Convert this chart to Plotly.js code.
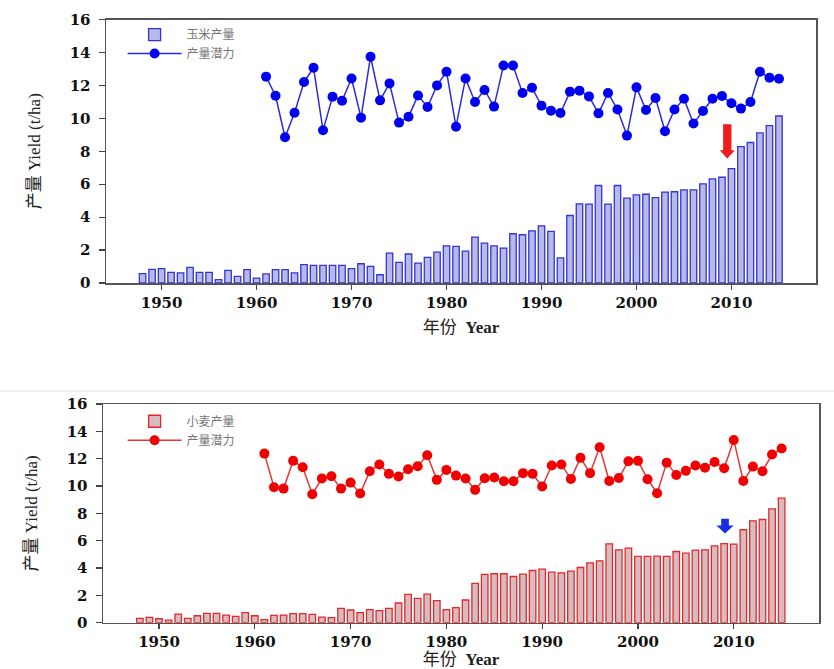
<!DOCTYPE html>
<html>
<head>
<meta charset="utf-8">
<script src="https://cdn.plot.ly/plotly-3.0.1.min.js"></script>
<style>html,body{margin:0;padding:0;background:#fff;}#chart{width:834px;height:669px;}</style>
</head>
<body>
<div id="chart"></div>
<script>
// ---------- data ----------
const barYears = [];
for (let y = 1948; y <= 2015; y++) barYears.push(y);
const potYears = [];
for (let y = 1961; y <= 2015; y++) potYears.push(y);

const maizeYield = [0.57,0.83,0.87,0.65,0.61,0.95,0.65,0.65,0.20,0.77,0.40,0.81,0.30,0.55,0.81,0.81,0.61,1.11,1.07,1.07,1.07,1.07,0.87,1.17,1.01,0.50,1.82,1.25,1.76,1.21,1.56,1.88,
  2.26,2.22,1.94,2.79,2.42,2.26,2.12,2.99,2.93,3.17,3.47,3.13,1.52,4.10,4.81,4.79,5.92,4.79,5.92,5.15,5.35,5.39,5.19,5.52,5.54,5.66,5.66,6.02,6.32,6.42,6.95,8.28,8.53,9.11,9.56,10.14];
const maizePotential = [12.53,11.37,8.85,10.34,12.2,13.07,9.27,11.31,11.07,12.42,10.04,13.74,11.09,12.12,9.74,10.1,11.39,10.69,12.0,12.83,
  9.49,12.42,10.99,11.72,10.71,13.21,13.21,11.54,11.86,10.77,10.46,10.32,11.62,11.68,11.33,10.3,11.54,10.53,8.95,11.88,10.5,11.23,9.21,10.53,11.19,9.68,10.44,11.19,11.35,10.91,10.59,10.99,12.83,12.46,12.4];
const wheatYield = [0.32,0.39,0.29,0.19,0.63,0.32,0.51,0.68,0.68,0.56,0.46,0.73,0.51,0.22,0.54,0.56,0.66,0.66,0.61,0.41,0.37,1.05,0.93,0.73,0.95,0.88,1.05,1.44,2.07,1.78,2.09,1.61,
  0.95,1.1,1.66,2.87,3.53,3.58,3.58,3.38,3.55,3.82,3.92,3.7,3.65,3.78,4.04,4.38,4.53,5.77,5.33,5.46,4.85,4.85,4.87,4.85,5.21,5.09,5.31,5.33,5.62,5.79,5.75,6.8,7.45,7.55,8.33,9.11];
const wheatPotential = [12.37,9.91,9.81,11.84,11.37,9.4,10.55,10.72,9.81,10.25,9.45,11.08,11.57,10.89,10.69,11.23,11.45,12.25,10.45,11.18,
  10.76,10.55,9.72,10.57,10.62,10.35,10.35,10.94,10.89,9.96,11.5,11.57,10.52,12.06,10.94,12.83,10.37,10.59,11.81,11.84,10.5,9.47,11.71,10.81,11.11,11.5,11.33,11.76,11.3,13.37,10.37,11.42,11.08,12.3,12.74];

const xTickVals = [1950,1960,1970,1980,1990,2000,2010];
const yTickVals = [0,2,4,6,8,10,12,14,16];
const maizeLegend = ['玉米产量','产量潜力'];
const wheatLegend = ['小麦产量','产量潜力'];
const yTitle = '产量 Yield (t/ha)';
const xTitle = '年份  <b>Year</b>';

// ---------- traces ----------
const traces = [
  {type:'bar', x:barYears, y:maizeYield, name:maizeLegend[0], xaxis:'x', yaxis:'y', width:0.68,
   marker:{color:'#b7bae6', line:{color:'#3434d6', width:1.3}}, legend:'legend'},
  {type:'scatter', mode:'lines+markers', x:potYears, y:maizePotential, name:maizeLegend[1], xaxis:'x', yaxis:'y',
   line:{color:'#2b2bdc', width:1.5}, marker:{color:'#0000f0', size:10}, legend:'legend'},
  {type:'bar', x:barYears, y:wheatYield, name:wheatLegend[0], xaxis:'x2', yaxis:'y2', width:0.68,
   marker:{color:'#d6bcc0', line:{color:'#e42828', width:1.3}}, legend:'legend2'},
  {type:'scatter', mode:'lines+markers', x:potYears, y:wheatPotential, name:wheatLegend[1], xaxis:'x2', yaxis:'y2',
   line:{color:'#e23838', width:1.5}, marker:{color:'#f00000', size:10}, legend:'legend2'}
];

// ---------- layout ----------
const W = 834, H = 669;
const tickFont = {family:'DejaVu Serif, Liberation Serif, serif', size:15, color:'#111', weight:'bold'};
const xTickFont = {family:'DejaVu Serif, Liberation Serif, serif', size:15, color:'#111', weight:'bold'};
const titleFontY = {family:'Liberation Serif, Noto Sans CJK SC, serif', size:17, color:'#222'};
const titleFontX = {family:'Liberation Serif, Noto Sans CJK SC, serif', size:17, color:'#222'};
function xax(domain){
  return {domain:domain, range:[1944.15,2018.9], tickvals:xTickVals, ticks:'outside', ticklen:5, tickwidth:1.2, tickcolor:'#444',
    showline:true, linecolor:'#555', linewidth:1.5, mirror:true, showgrid:false, zeroline:false, tickfont:xTickFont,
    title:{text:xTitle, font:titleFontX, standoff:10}};
}
function yax(domain, anchor){
  return {domain:domain, range:[0,16], tickvals:yTickVals, ticks:'outside', ticklen:6, tickwidth:1.2, tickcolor:'#444', anchor:anchor,
    showline:true, linecolor:'#555', linewidth:1.5, mirror:true, showgrid:false, zeroline:false, tickfont:tickFont,
    ticklabelstandoff:5, title:{text:yTitle, font:titleFontY, standoff:24}};
}
const legendFont = {family:'Noto Sans CJK SC, serif', size:12, color:'#777'};

const layout = {
  width:W, height:H, margin:{l:0,r:0,t:0,b:0}, paper_bgcolor:'#fff', plot_bgcolor:'#fff', showlegend:true,
  barmode:'overlay',
  xaxis: Object.assign(xax([106/W, 816/W]), {anchor:'y'}),
  yaxis: yax([1-283/H, 1-19.5/H], 'x'),
  xaxis2: Object.assign(xax([103/W, 819/W]), {anchor:'y2'}),
  yaxis2: yax([1-622.7/H, 1-404/H], 'x2'),
  legend:{x:0.147, y:0.97, xanchor:'left', yanchor:'top', bgcolor:'rgba(0,0,0,0)', font:legendFont, itemwidth:54, tracegroupgap:0, traceorder:'normal'},
  legend2:{x:0.147, y:0.392, xanchor:'left', yanchor:'top', bgcolor:'rgba(0,0,0,0)', font:legendFont, itemwidth:54, tracegroupgap:0, traceorder:'normal'},
  shapes:[
    {type:'line', xref:'paper', yref:'paper', x0:0, x1:1, y0:1-391/H, y1:1-391/H, line:{color:'#e2e2e2', width:1}},
    {type:'path', xref:'x', yref:'y', fillcolor:'#ee1c1c', line:{width:0},
     path:'M2009.12,9.64 L2010.0,9.64 L2010.0,8.06 L2010.36,8.06 L2009.56,7.56 L2008.76,8.06 L2009.12,8.06 Z'},
    {type:'path', xref:'x2', yref:'y2', fillcolor:'#1a2ee8', line:{width:0},
     path:'M2008.69,7.6 L2009.49,7.6 L2009.49,7.11 L2009.99,7.11 L2009.09,6.52 L2008.19,7.11 L2008.69,7.11 Z'}
  ]
};

Plotly.newPlot('chart', traces, layout, {displayModeBar:false, staticPlot:true});
</script>
</body>
</html>
